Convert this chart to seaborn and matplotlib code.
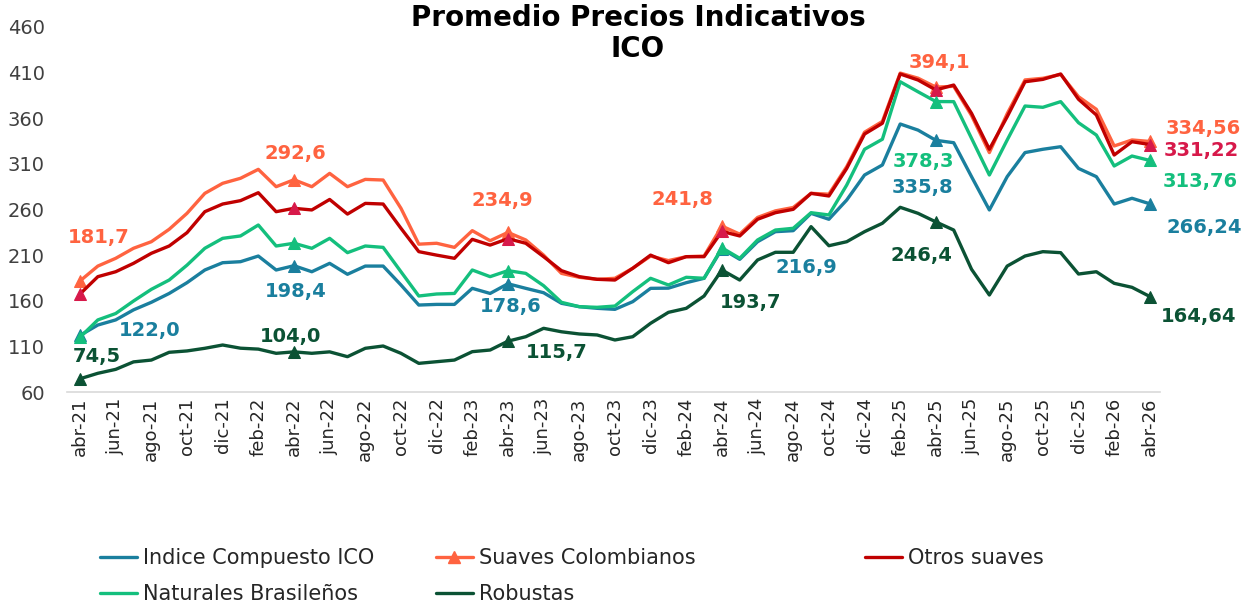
import numpy as np
import pandas as pd
import seaborn as sns
import matplotlib.pyplot as plt
from matplotlib.lines import Line2D

# meses abr-21 .. abr-26
mes_abbr = ['ene', 'feb', 'mar', 'abr', 'may', 'jun', 'jul', 'ago', 'sep', 'oct', 'nov', 'dic']
meses = [f"{mes_abbr[(3 + k) % 12]}-{21 + (3 + k) // 12}" for k in range(61)]

ico = [122.0, 133.4, 139.0, 150.0, 158.3, 168.0, 179.8, 193.7, 201.7, 202.8, 209.0, 193.7, 198.4,
       191.8, 201.0, 189.0, 198.0, 198.0, 177.3, 155.3, 156.0, 156.0, 173.6, 168.0, 178.6,
       173.6, 168.8, 157.2, 153.5, 151.7, 150.6, 159.0, 173.6, 173.8, 179.8, 184.6, 216.9,
       205.4, 224.7, 235.7, 236.8, 255.8, 249.3, 270.4, 297.8, 308.8, 353.7, 347.0, 335.8,
       333.2, 296.0, 259.5, 296.0, 322.4, 326.0, 328.8, 305.0, 296.0, 266.0, 272.3, 266.24]

suaves_col = [181.7, 198.0, 206.5, 217.5, 224.7, 238.3, 255.8, 277.7, 288.7, 294.2, 304.0, 285.0, 292.6,
              285.0, 299.6, 285.0, 293.0, 292.3, 261.3, 222.0, 223.0, 218.5, 236.8, 225.8, 234.9,
              226.6, 210.0, 190.0, 185.7, 183.5, 184.6, 195.6, 209.0, 204.0, 208.3, 209.0, 241.8,
              233.0, 251.3, 258.5, 262.2, 277.7, 276.8, 307.0, 344.7, 356.5, 409.5, 403.9, 394.1,
              395.0, 363.0, 322.4, 365.0, 402.0, 403.8, 408.0, 383.6, 369.8, 329.6, 336.2, 334.56]

otros_suaves = [167.4, 186.4, 191.8, 201.0, 212.0, 220.0, 234.6, 257.6, 266.0, 269.7, 278.4, 257.6, 261.3,
                259.5, 271.0, 255.0, 266.7, 266.0, 239.4, 213.8, 210.0, 206.5, 227.3, 221.0, 228.0,
                223.0, 208.3, 193.0, 186.4, 183.5, 182.7, 195.6, 210.0, 201.7, 208.3, 208.3, 236.0,
                231.0, 249.3, 256.5, 260.2, 277.7, 274.8, 305.0, 342.7, 354.5, 408.5, 401.9, 391.0,
                396.4, 365.4, 326.0, 361.7, 400.0, 402.6, 408.5, 380.8, 363.6, 319.7, 334.3, 331.22]

naturales = [120.0, 139.0, 146.0, 159.7, 172.5, 182.7, 199.0, 217.5, 228.4, 231.0, 243.0, 220.0, 223.0,
             217.5, 228.4, 212.7, 220.0, 218.5, 191.8, 165.2, 167.4, 168.0, 193.7, 186.4, 193.0,
             190.0, 176.5, 158.3, 153.5, 152.8, 154.2, 170.0, 184.6, 177.3, 185.7, 184.6, 218.0,
             206.5, 226.6, 237.5, 239.4, 256.5, 254.0, 286.8, 326.0, 337.0, 400.0, 389.0, 378.3,
             378.2, 338.0, 297.8, 336.2, 373.4, 372.0, 378.2, 355.1, 341.6, 307.7, 318.6, 313.76]

robustas = [74.5, 80.5, 84.8, 93.0, 95.0, 103.5, 105.0, 107.9, 111.5, 108.0, 107.0, 102.4, 104.0,
            102.4, 104.0, 98.7, 107.9, 110.4, 102.4, 91.4, 93.2, 95.0, 104.2, 106.0, 115.7,
            120.6, 129.8, 126.0, 123.6, 122.5, 117.0, 120.6, 135.3, 147.3, 151.7, 165.2, 193.7,
            182.7, 204.7, 213.1, 213.1, 241.2, 220.3, 224.7, 235.7, 244.9, 262.4, 255.8, 246.4,
            237.5, 194.5, 166.3, 198.0, 209.0, 213.8, 212.7, 189.3, 191.8, 179.1, 174.7, 164.64]

# serie, valores, color linea, color marcador, etiquetas {indice: (texto, dx px, dy px)}
series = [
    ("Indice Compuesto ICO", ico, "#1a7f9e", "#1a7f9e",
     {0: ("122,0", 70, 5), 12: ("198,4", 2, -26), 24: ("178,6", 3, -23), 36: ("216,9", 84, -19),
      48: ("335,8", -13, -47), 60: ("266,24", 54, -24)}),
    ("Suaves Colombianos", suaves_col, "#ff6340", "#ff6340",
     {0: ("181,7", 19, 43), 12: ("292,6", 1, 26), 24: ("234,9", -6, 32), 36: ("241,8", -39, 27),
      48: ("394,1", 4, 25), 60: ("334,56", 53, 13)}),
    ("Otros suaves", otros_suaves, "#c00000", "#d7194a",
     {60: ("331,22", 51, -6)}),
    ("Naturales Brasileños", naturales, "#14bf7d", "#14bf7d",
     {48: ("378,3", -12, -60), 60: ("313,76", 50, -21)}),
    ("Robustas", robustas, "#0b5234", "#0b5234",
     {0: ("74,5", 17, 22), 12: ("104,0", -3, 15), 24: ("115,7", 49, -11), 36: ("193,7", 29, -33),
      48: ("246,4", -14, -34), 60: ("164,64", 49, -20)}),
]
label_colors = {"Otros suaves": "#d7194a"}

sns.set_theme(style="white")
plt.rcParams['font.family'] = ['DejaVu Sans']

fig = plt.figure(figsize=(12.56, 6.07), dpi=100)
ax = fig.add_axes([67 / 1256, 215 / 607, 1093 / 1256, 365 / 607])

x = np.arange(len(meses))
for name, vals, color, mcolor, labels in series:
    df = pd.DataFrame({"x": x, "y": vals})
    sns.lineplot(data=df, x="x", y="y", ax=ax, color=color, linewidth=2.4,
                 marker="^", markersize=9, markevery=12,
                 markerfacecolor=mcolor, markeredgecolor=mcolor, legend=False)
    tcolor = label_colors.get(name, color)
    for idx, (txt, dx, dy) in labels.items():
        ax.annotate(txt, (idx, vals[idx]), xytext=(dx * 0.72, dy * 0.72),
                    textcoords="offset points", ha="center", va="center",
                    fontsize=14, fontweight="bold", color=tcolor)

ax.set_xlim(-0.73, 60.57)
ax.set_ylim(60, 460)
ax.set_yticks(range(60, 461, 50))
ax.set_xticks(x[::2])
ax.set_xticklabels(meses[::2], rotation=90)
ax.set_xticks(x[::2] - 0.5, minor=True)
ax.tick_params(axis="x", which="major", length=0, pad=4, labelsize=13, labelcolor="#262626")
ax.tick_params(axis="x", which="minor", length=6, width=1, color="#d9d9d9", direction="out")
ax.tick_params(axis="y", length=0, pad=16, labelsize=14, labelcolor="#404040")
ax.set_xlabel("")
ax.set_ylabel("")
for s in ["left", "right", "top"]:
    ax.spines[s].set_visible(False)
ax.spines["bottom"].set_color("#d9d9d9")
ax.spines["bottom"].set_linewidth(1.2)
ax.grid(False)

fig.text(0.508, 1 - 4 / 607, "Promedio Precios Indicativos\nICO", ha="center", va="top",
         fontsize=20, fontweight="bold", color="black", linespacing=1.15)

handles = {}
for name, vals, color, mcolor, labels in series:
    mk = "^" if name == "Suaves Colombianos" else None
    handles[name] = Line2D([], [], color=color, linewidth=2.4, marker=mk, markersize=9)

# tres columnas de leyenda como en el original
columnas = [(["Indice Compuesto ICO", "Naturales Brasileños"], 96),
            (["Suaves Colombianos", "Robustas"], 432),
            (["Otros suaves"], 861)]
for nombres, xpix in columnas:
    leg = fig.legend([handles[n] for n in nombres], nombres, ncol=1, loc="upper left",
                     bbox_to_anchor=(xpix / 1256, 1 - 544 / 607), frameon=False, fontsize=15,
                     handlelength=1.75, handletextpad=0.3, labelspacing=0.75, borderpad=0.2,
                     borderaxespad=0)

plt.savefig("out.png", dpi=100)
plt.close()
